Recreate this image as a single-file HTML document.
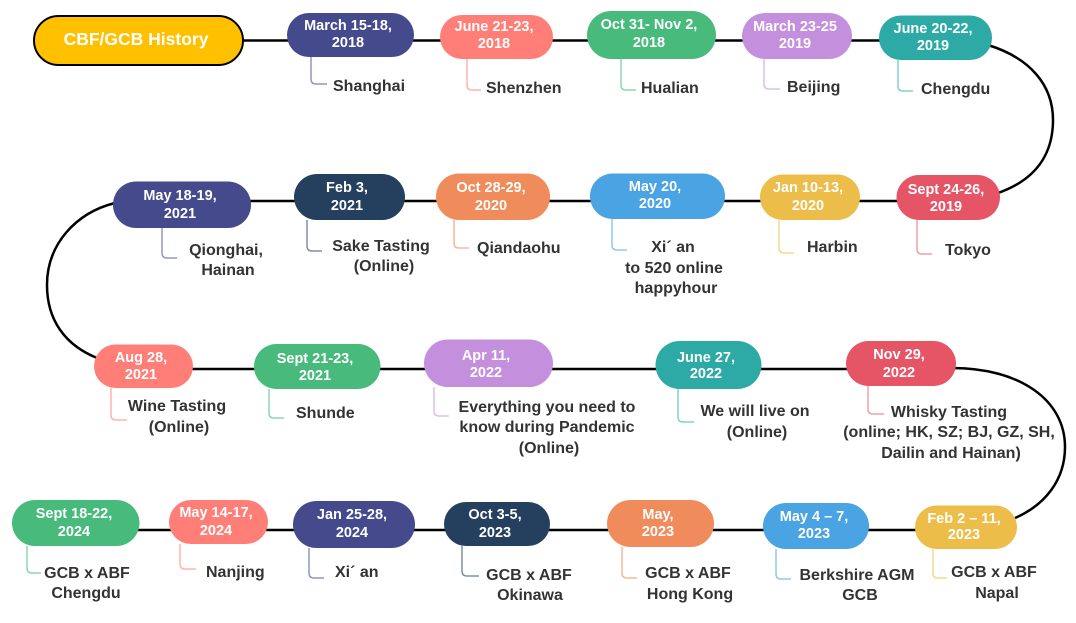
<!DOCTYPE html>
<html><head><meta charset="utf-8">
<style>
html,body{margin:0;padding:0;background:#fff;}
svg{display:block;}
.n{font-family:"Liberation Sans","DejaVu Sans",sans-serif;font-weight:bold;font-size:14.5px;fill:#fff;text-anchor:middle;}
.l{font-family:"Liberation Sans","DejaVu Sans",sans-serif;font-weight:bold;font-size:16px;fill:#333;}
.m{text-anchor:middle;}
.c{fill:none;stroke-width:1.5;}
</style></head>
<body>
<svg width="1076" height="623" viewBox="0 0 1076 623" xmlns="http://www.w3.org/2000/svg">
<!-- main lines -->
<g stroke="#000" stroke-width="2.5" fill="none">
<line x1="243" y1="40.5" x2="880" y2="40.5"/>
<path d="M988,45 C1030,58 1053,85 1053,120 C1053,155 1035,180 998,193"/>
<line x1="250" y1="201" x2="898" y2="201"/>
<path d="M115,203 C75,213 47,245 47,285 C47,320 65,345 97,358"/>
<line x1="192" y1="369" x2="850" y2="369"/>
<path d="M952,368 C1020,368 1065,400 1065,447 C1065,480 1045,505 1015,518"/>
<line x1="138" y1="530" x2="918" y2="530"/>
</g>

<!-- connectors -->
<path class="c" stroke="#9496C0" d="M311,57 V79 Q311,84 316,84 H327"/>
<path class="c" stroke="#FFB3AE" d="M467,59 V85 Q467,90 472,90 H481"/>
<path class="c" stroke="#8FD6AE" d="M621,59 V85 Q621,90 626,90 H636"/>
<path class="c" stroke="#DDBDEC" d="M764,59 V84 Q764,89 769,89 H780"/>
<path class="c" stroke="#85CFCC" d="M898,60 V86 Q898,91 903,91 H913"/>

<path class="c" stroke="#9496C0" d="M162,228 V253 Q162,258 167,258 H177"/>
<path class="c" stroke="#8090A4" d="M307,220 V246 Q307,251 312,251 H322"/>
<path class="c" stroke="#F6B899" d="M454,220 V243 Q454,248 459,248 H469"/>
<path class="c" stroke="#93C8EE" d="M612,219 V245 Q612,250 617,250 H627"/>
<path class="c" stroke="#F4D88F" d="M779,220 V248 Q779,253 784,253 H794"/>
<path class="c" stroke="#F0A0A9" d="M917,220 V249 Q917,254 922,254 H932"/>

<path class="c" stroke="#FFB3AE" d="M111,388 V415 Q111,420 116,420 H127"/>
<path class="c" stroke="#8FD6AE" d="M269,389 V413 Q269,418 274,418 H284"/>
<path class="c" stroke="#DDBDEC" d="M434,387 V411 Q434,416 439,416 H449"/>
<path class="c" stroke="#85CFCC" d="M678,389 V417 Q678,422 683,422 H694"/>
<path class="c" stroke="#F0A0A9" d="M868,386 V409 Q868,414 873,414 H884"/>

<path class="c" stroke="#8FD6AE" d="M27,546 V568 Q27,573 32,573 H41"/>
<path class="c" stroke="#FFB3AE" d="M180,544 V564 Q180,569 185,569 H196"/>
<path class="c" stroke="#9496C0" d="M309,548 V573 Q309,578 314,578 H324"/>
<path class="c" stroke="#8090A4" d="M462,546 V571 Q462,576 467,576 H479"/>
<path class="c" stroke="#F6B899" d="M622,547 V573 Q622,578 627,578 H637"/>
<path class="c" stroke="#93C8EE" d="M776,549 V574 Q776,579 781,579 H791"/>
<path class="c" stroke="#F4D88F" d="M933,549 V573 Q933,578 938,578 H947"/>

<!-- title -->
<rect x="34" y="16" width="209" height="49" rx="24.5" fill="#FFC000" stroke="#000" stroke-width="2"/>
<text x="136" y="45" class="n" style="font-size:17.5px">CBF/GCB History</text>

<!-- row 1 nodes -->
<rect x="287" y="13" width="127" height="44" rx="22" fill="#454A8C"/>
<text class="n" x="348" y="30">March 15-18,</text><text class="n" x="348" y="47">2018</text>
<rect x="440" y="15" width="113" height="44" rx="22" fill="#FF7F78"/>
<text class="n" x="494" y="31">June 21-23,</text><text class="n" x="494" y="48">2018</text>
<rect x="587" y="11" width="129" height="48" rx="24" fill="#48BA7C"/>
<text class="n" x="649" y="29">Oct 31- Nov 2,</text><text class="n" x="649" y="47">2018</text>
<rect x="742" y="13" width="110" height="46" rx="23" fill="#C490DE"/>
<text class="n" x="795" y="31">March 23-25</text><text class="n" x="795" y="48">2019</text>
<rect x="879" y="15.5" width="113" height="44.5" rx="22" fill="#2EAAA6"/>
<text class="n" x="933" y="33">June 20-22,</text><text class="n" x="933" y="50">2019</text>

<!-- row 2 nodes -->
<rect x="113" y="181.5" width="138" height="46.5" rx="23" fill="#454A8C"/>
<text class="n" x="180" y="200">May 18-19,</text><text class="n" x="180" y="218">2021</text>
<rect x="294" y="174" width="111" height="46" rx="23" fill="#25405E"/>
<text class="n" x="347" y="192">Feb 3,</text><text class="n" x="347" y="210">2021</text>
<rect x="436" y="173.5" width="114" height="46.5" rx="23" fill="#F08C5C"/>
<text class="n" x="491" y="192">Oct 28-29,</text><text class="n" x="491" y="210">2020</text>
<rect x="590" y="173.5" width="135" height="45.5" rx="22.7" fill="#4AA3E2"/>
<text class="n" x="655" y="191">May 20,</text><text class="n" x="655" y="208">2020</text>
<rect x="760" y="174.5" width="100" height="45.5" rx="22.7" fill="#EDBD4A"/>
<text class="n" x="808" y="192">Jan 10-13,</text><text class="n" x="808" y="210">2020</text>
<rect x="896.5" y="175" width="103.5" height="45" rx="22.5" fill="#E55566"/>
<text class="n" x="946" y="194">Sept 24-26,</text><text class="n" x="946" y="211">2019</text>

<!-- row 3 nodes -->
<rect x="94" y="344.5" width="99" height="43.5" rx="21.7" fill="#FF7F78"/>
<text class="n" x="141" y="362">Aug 28,</text><text class="n" x="141" y="379">2021</text>
<rect x="254" y="344" width="126.5" height="45" rx="22.5" fill="#48BA7C"/>
<text class="n" x="315" y="363">Sept 21-23,</text><text class="n" x="315" y="380">2021</text>
<rect x="424" y="339.5" width="129" height="47.5" rx="23.7" fill="#C490DE"/>
<text class="n" x="486" y="360">Apr 11,</text><text class="n" x="486" y="377">2022</text>
<rect x="655.5" y="341" width="106" height="48" rx="24" fill="#2EAAA6"/>
<text class="n" x="706" y="362">June 27,</text><text class="n" x="706" y="378">2022</text>
<rect x="846" y="341" width="110" height="45" rx="22.5" fill="#E55566"/>
<text class="n" x="899" y="359">Nov 29,</text><text class="n" x="899" y="377">2022</text>

<!-- row 4 nodes -->
<rect x="12" y="500" width="127.5" height="46" rx="23" fill="#48BA7C"/>
<text class="n" x="74" y="518">Sept 18-22,</text><text class="n" x="74" y="536">2024</text>
<rect x="169" y="500" width="99" height="44" rx="22" fill="#FF7F78"/>
<text class="n" x="216" y="517">May 14-17,</text><text class="n" x="216" y="535">2024</text>
<rect x="293" y="501" width="122" height="47" rx="23.5" fill="#454A8C"/>
<text class="n" x="352" y="519">Jan 25-28,</text><text class="n" x="352" y="537">2024</text>
<rect x="444" y="502" width="106" height="44" rx="22" fill="#25405E"/>
<text class="n" x="495" y="519">Oct 3-5,</text><text class="n" x="495" y="537">2023</text>
<rect x="607" y="500" width="107" height="47" rx="23.5" fill="#F08C5C"/>
<text class="n" x="658" y="519">May,</text><text class="n" x="658" y="536">2023</text>
<rect x="763" y="503" width="106" height="46" rx="23" fill="#4AA3E2"/>
<text class="n" x="814" y="521">May 4 – 7,</text><text class="n" x="814" y="538">2023</text>
<rect x="915" y="505.5" width="102" height="43.5" rx="21.7" fill="#EDBD4A"/>
<text class="n" x="964" y="523">Feb 2 – 11,</text><text class="n" x="964" y="539">2023</text>

<!-- labels row 1 -->
<text class="l" x="333" y="91">Shanghai</text>
<text class="l" x="486" y="93">Shenzhen</text>
<text class="l" x="641" y="93">Hualian</text>
<text class="l" x="787" y="92">Beijing</text>
<text class="l" x="921" y="94">Chengdu</text>

<!-- labels row 2 -->
<text class="l m" x="226" y="255">Qionghai,</text><text class="l m" x="228" y="275">Hainan</text>
<text class="l m" x="381" y="251">Sake Tasting</text><text class="l m" x="384" y="271">(Online)</text>
<text class="l" x="477" y="253">Qiandaohu</text>
<text class="l m" x="673" y="252">Xi´ an</text><text class="l m" x="674" y="273">to 520 online</text><text class="l m" x="676" y="293">happyhour</text>
<text class="l" x="807" y="252">Harbin</text>
<text class="l" x="945" y="255">Tokyo</text>

<!-- labels row 3 -->
<text class="l m" x="177" y="411">Wine Tasting</text><text class="l m" x="179" y="432">(Online)</text>
<text class="l" x="296" y="418">Shunde</text>
<text class="l m" x="547" y="412">Everything you need to</text><text class="l m" x="547" y="432">know during Pandemic</text><text class="l m" x="549" y="453">(Online)</text>
<text class="l m" x="755" y="416">We will live on</text><text class="l m" x="757" y="437">(Online)</text>
<text class="l m" x="949" y="417">Whisky Tasting</text><text class="l m" x="949" y="437">(online; HK, SZ; BJ, GZ, SH,</text><text class="l m" x="951" y="458">Dailin and Hainan)</text>

<!-- labels row 4 -->
<text class="l m" x="87" y="578">GCB x ABF</text><text class="l m" x="86" y="598">Chengdu</text>
<text class="l" x="206" y="577">Nanjing</text>
<text class="l" x="335" y="577">Xi´ an</text>
<text class="l m" x="529" y="580">GCB x ABF</text><text class="l m" x="530" y="600">Okinawa</text>
<text class="l m" x="688" y="578">GCB x ABF</text><text class="l m" x="690" y="599">Hong Kong</text>
<text class="l m" x="857" y="580">Berkshire AGM</text><text class="l m" x="860" y="600">GCB</text>
<text class="l m" x="994" y="577">GCB x ABF</text><text class="l m" x="997" y="598">Napal</text>
</svg>
</body></html>
